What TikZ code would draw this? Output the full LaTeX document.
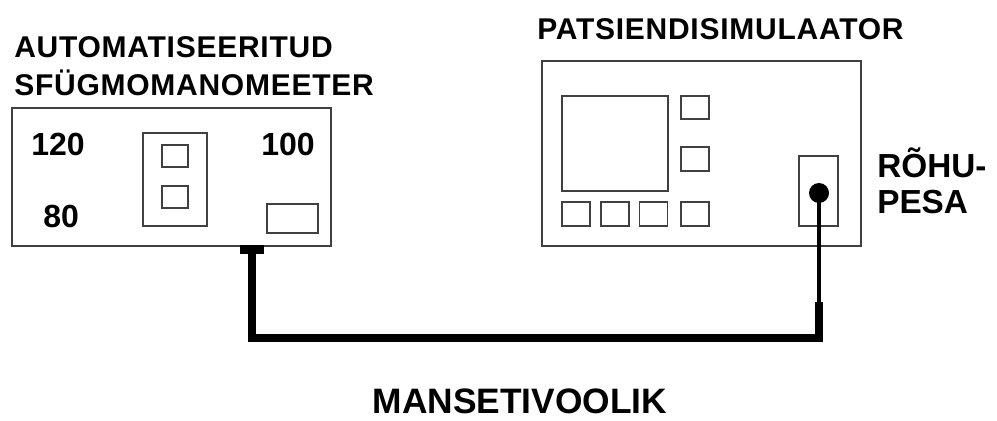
\documentclass[tikz,border=0pt]{standalone}
\usepackage{fontspec}
\setmainfont{Liberation Sans}
\newfontfamily\spacedfont{Liberation Sans}[LetterSpace=2.5]
\begin{document}
\begin{tikzpicture}[x=0.75pt,y=-0.75pt,
  outline/.style={draw=black!75, line width=1pt, inner sep=0pt, fill=white},
  dotstyle/.style={circle, fill=black, inner sep=0pt, minimum size=15pt},
  stubstyle/.style={fill=black, inner sep=0pt, minimum width=18pt, minimum height=6.75pt},
  tube/.style={line width=6pt, line join=miter, black},
  thintube/.style={line width=2.6pt, black},
  title/.style={inner sep=0pt, font=\spacedfont\bfseries\fontsize{22.5}{27}\selectfont},
  num/.style={inner sep=0pt, font=\bfseries\fontsize{24}{28}\selectfont},
  lbl/.style={inner sep=0pt, font=\bfseries\fontsize{25}{30}\selectfont}
]
\useasboundingbox (0,0) rectangle (997,421);
\fill[white] (0,0) rectangle (997,421);

% left device
\node[outline, minimum width=239.25pt, minimum height=103.5pt] (lbox) at (171.5,177) {};
\node[outline, minimum width=48pt, minimum height=69.75pt] (lpanel) at (175,179.5) {};
\node[outline, minimum width=19.5pt, minimum height=16.5pt] (lsq1) at (175,156) {};
\node[outline, minimum width=19.5pt, minimum height=16.5pt] (lsq2) at (175,197) {};
\node[outline, minimum width=38.25pt, minimum height=21.75pt] (lrect) at (292.5,218.5) {};
\node[stubstyle] (stub) at (252,249.5) {};
\node[num, anchor=base west] (n120) at (31,155) {120};
\node[num, anchor=base west] (n100) at (261,155) {100};
\node[num, anchor=base west] (n80) at (43,227) {80};
\node[title, anchor=base west] (t1) at (14,57) {AUTOMATISEERITUD};
\node[title, anchor=base west] (t2) at (14,95) {SFÜGMOMANOMEETER};

% right device
\node[outline, minimum width=239.25pt, minimum height=138.75pt] (rbox) at (701.5,153.5) {};
\node[outline, minimum width=79.5pt, minimum height=71.25pt] (screen) at (615,143.5) {};
\node[outline, minimum width=21pt, minimum height=17.25pt] (rs1) at (695,107.5) {};
\node[outline, minimum width=21pt, minimum height=18pt] (rs2) at (695,159) {};
\node[outline, minimum width=21pt, minimum height=18pt] (b1) at (576,214) {};
\node[outline, minimum width=21pt, minimum height=18pt] (b2) at (615,214) {};
\node[outline, minimum width=21pt, minimum height=18pt] (b3) at (653.5,214) {};
\node[outline, minimum width=21pt, minimum height=18pt] (b4) at (695,214) {};
\node[outline, minimum width=29.25pt, minimum height=52.5pt] (socket) at (818.5,191) {};
\node[dotstyle] (dot) at (819,193) {};
\node[title, anchor=base west] (t3) at (537,40) {PATSIENDISIMULAATOR};
\node[lbl, anchor=base west] (r1) at (877,177) {RÕHU-};
\node[lbl, anchor=base west] (r2) at (877,213) {PESA};

% hose
\coordinate (tj) at (819,302);
\draw[tube] (stub.south) -- (stub.south |- 0,338) -- (tj |- 0,338) -- (tj);
\draw[thintube] (tj) -- (dot.center);

\node[inner sep=0pt, text depth=0pt, anchor=base, font=\bfseries\fontsize{26.5}{30}\selectfont] (hose) at (520,413) {MANSETIVOOLIK};
\end{tikzpicture}
\end{document}
